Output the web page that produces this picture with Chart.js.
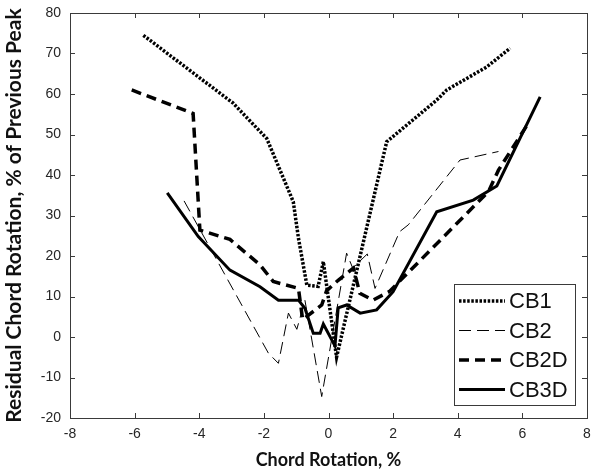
<!DOCTYPE html>
<html>
<head>
<meta charset="utf-8">
<script src="https://cdn.jsdelivr.net/npm/chart.js@4/dist/chart.umd.min.js"></script>
<style>
html,body{margin:0;padding:0;background:#fff;}
#wrap{width:591px;height:472px;position:relative;}
</style>
</head>
<body>
<div id="wrap"><canvas id="c" width="591" height="472"></canvas></div>
<script>
// ---- data ----
const seriesNames = ["CB1", "CB2", "CB2D", "CB3D"];

const cb1X = [-5.73, -2.96, -1.91, -1.09, -0.93, -0.67, -0.32, -0.16, 0.25, 1.8, 3.35, 3.66, 4.9, 5.62];
const cb1Y = [74.5, 57.8, 49.0, 33.4, 24.4, 12.8, 12.5, 18.6, -5.0, 48.2, 58.5, 61.0, 66.7, 71.3];

const cb2X = [-4.47, -1.86, -1.55, -1.24, -0.98, -0.73, -0.21, 0.56, 0.75, 1.2, 1.44, 2.2, 2.47, 4.07, 5.26];
const cb2Y = [33.6, -4.0, -6.5, 5.9, 1.9, 9.1, -14.7, 20.7, 17.0, 20.5, 12.0, 26.0, 27.7, 43.7, 45.8];

const cb2dX = [-6.09, -4.19, -3.98, -3.05, -2.12, -1.71, -0.93, -0.8, -0.21, -0.06, 0.3, 0.77, 0.97, 1.38, 1.88, 4.95, 5.26, 6.2];
const cb2dY = [61.0, 55.2, 26.4, 24.1, 17.8, 13.7, 12.0, 4.3, 7.9, 11.4, 14.0, 17.0, 10.8, 9.1, 11.2, 35.9, 41.2, 53.0];

const cb3dX = [-4.99, -4.03, -3.05, -2.12, -1.55, -0.93, -0.73, -0.47, -0.26, -0.16, 0.2, 0.3, 0.56, 0.98, 1.49, 2.0, 3.35, 4.48, 5.21, 6.55];
const cb3dY = [35.6, 24.8, 16.5, 12.4, 9.1, 9.1, 7.1, 0.9, 0.9, 3.2, -2.2, 7.2, 7.9, 5.9, 6.7, 11.2, 30.9, 33.8, 37.3, 59.3];

const xTicks = [-8, -6, -4, -2, 0, 2, 4, 6, 8];
const yTicks = [-20, -10, 0, 10, 20, 30, 40, 50, 60, 70, 80];
const xTitle = "Chord Rotation, %";
const yTitle = "Residual Chord Rotation, % of Previous Peak";

function pts(xs, ys) { return xs.map((x, i) => ({x: x, y: ys[i]})); }

const styles = [
  {borderWidth: 3.5, borderDash: [2.5, 1.6]},
  {borderWidth: 1, borderDash: [12, 6]},
  {borderWidth: 3.5, borderDash: [10, 6]},
  {borderWidth: 3, borderDash: []}
];
const allX = [cb1X, cb2X, cb2dX, cb3dX];
const allY = [cb1Y, cb2Y, cb2dY, cb3dY];

const datasets = seriesNames.map((n, i) => ({
  label: n,
  data: pts(allX[i], allY[i]),
  showLine: true,
  borderColor: "#000",
  backgroundColor: "#000",
  borderWidth: styles[i].borderWidth,
  borderDash: styles[i].borderDash,
  borderCapStyle: "butt",
  borderJoinStyle: "miter",
  pointRadius: 0,
  pointHoverRadius: 0,
  tension: 0,
  fill: false
}));

const frameAndTicks = {
  id: "frameAndTicks",
  afterDraw(chart) {
    const ctx = chart.ctx;
    const a = chart.chartArea;
    const sx = chart.scales.x, sy = chart.scales.y;
    const l = Math.round(a.left), r = Math.round(a.right), t = Math.round(a.top), b = Math.round(a.bottom);
    ctx.save();
    ctx.setLineDash([]);
    ctx.fillStyle = "#3a3a3a";
    const L = 5;
    for (const v of xTicks) {
      const px = Math.round(sx.getPixelForValue(v));
      ctx.fillRect(px, b - L, 1, L);
      ctx.fillRect(px, t, 1, L);
    }
    for (const v of yTicks) {
      const py = Math.round(sy.getPixelForValue(v));
      ctx.fillRect(l, py, L, 1);
      ctx.fillRect(r - L, py, L, 1);
    }
    ctx.fillRect(l, t, r - l + 1, 1);
    ctx.fillRect(l, b, r - l + 1, 1);
    ctx.fillRect(l, t, 1, b - t + 1);
    ctx.fillRect(r, t, 1, b - t + 1);

    // legend box (inside plot, lower right)
    const bx = r - 133, by = b - 134, bw = 121, bh = 121;
    ctx.fillStyle = "#fff";
    ctx.fillRect(bx, by, bw, bh);
    ctx.fillStyle = "#3a3a3a";
    ctx.fillRect(bx, by, bw, 1);
    ctx.fillRect(bx, by + bh, bw + 1, 1);
    ctx.fillRect(bx, by, 1, bh);
    ctx.fillRect(bx + bw, by, 1, bh);
    ctx.font = "22px 'Liberation Sans', Arial, sans-serif";
    ctx.textBaseline = "middle";
    ctx.textAlign = "left";
    chart.data.datasets.forEach((d, i) => {
      const y = by + 17 + i * 29.5;
      ctx.strokeStyle = "#000";
      ctx.lineWidth = d.borderWidth;
      ctx.lineCap = "butt";
      ctx.setLineDash(d.borderDash);
      ctx.beginPath();
      ctx.moveTo(bx + 5, y); ctx.lineTo(bx + 51, y);
      ctx.stroke();
      ctx.setLineDash([]);
      ctx.fillStyle = "#111";
      ctx.fillText(d.label, bx + 55, y + 1);
    });
    ctx.restore();
  }
};

const hiddenGrid = {display: true, drawOnChartArea: false, drawTicks: true, tickLength: 8, color: "rgba(0,0,0,0)"};

new Chart(document.getElementById("c"), {
  type: "scatter",
  data: {datasets: datasets},
  options: {
    responsive: false,
    animation: false,
    devicePixelRatio: 1,
    layout: {padding: {top: 13, right: 4, bottom: 0, left: 0}},
    plugins: {legend: {display: false}, tooltip: {enabled: false}},
    scales: {
      x: {
        type: "linear", min: -8, max: 8,
        afterBuildTicks: s => { s.ticks = xTicks.map(v => ({value: v})); },
        afterFit: s => { s.height = 54; },
        grid: hiddenGrid,
        border: {display: false},
        ticks: {color: "#262626", font: {family: "'Liberation Sans', Arial, sans-serif", size: 14}, padding: 0, maxRotation: 0},
        title: {display: true, text: xTitle, color: "#111", font: {family: "Lato", weight: "bold", size: 18}, padding: {top: 0, bottom: 1}}
      },
      y: {
        type: "linear", min: -20, max: 80,
        afterBuildTicks: s => { s.ticks = yTicks.map(v => ({value: v})); },
        afterFit: s => { s.width = 70; },
        grid: hiddenGrid,
        border: {display: false},
        ticks: {color: "#262626", font: {family: "'Liberation Sans', Arial, sans-serif", size: 14}, padding: 1},
        title: {display: true, text: yTitle, color: "#111", font: {family: "Lato", weight: "bold", size: 21}, padding: {top: 2, bottom: 0}}
      }
    }
  },
  plugins: [frameAndTicks]
});
</script>
</body>
</html>
